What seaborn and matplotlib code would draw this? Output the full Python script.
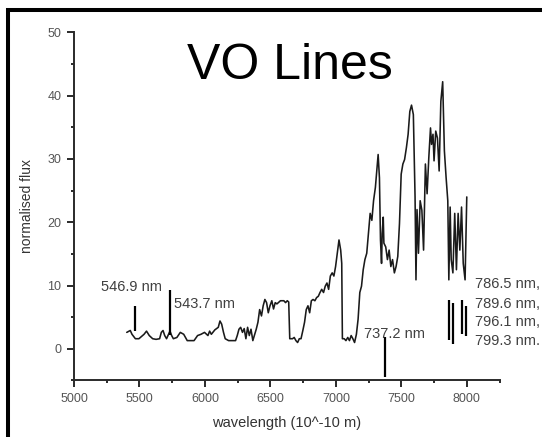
import numpy as np
import pandas as pd
import seaborn as sns
import matplotlib
matplotlib.use("Agg")
import matplotlib.pyplot as plt
from matplotlib import font_manager
from matplotlib.lines import Line2D
from matplotlib.ticker import MultipleLocator

# Spectrum: wavelength (Angstrom) and normalised flux
wavelength = [
    5403, 5430, 5443, 5469, 5496, 5535, 5554, 5575, 5601, 5627, 5654, 5667,
    5680, 5693, 5707, 5733, 5746, 5759, 5786, 5812, 5838, 5865, 5917, 5944,
    5970, 5997, 6023, 6036, 6049, 6076, 6102, 6115, 6128, 6142, 6155, 6181,
    6234, 6247, 6260, 6273, 6287, 6300, 6313, 6326, 6339, 6352, 6366, 6392,
    6405, 6418, 6432, 6445, 6458, 6471, 6484, 6497, 6511, 6524, 6537, 6550,
    6577, 6603, 6616, 6629, 6640, 6648, 6656, 6669, 6682, 6695, 6708, 6721,
    6734, 6748, 6761, 6774, 6787, 6800, 6813, 6826, 6840, 6853, 6866, 6879,
    6892, 6906, 6919, 6932, 6945, 6958, 6972, 6985, 6998, 7011, 7024, 7037,
    7045, 7050, 7064, 7077, 7091, 7104, 7117, 7130, 7143, 7157, 7170, 7183,
    7196, 7209, 7222, 7236, 7249, 7262, 7275, 7288, 7302, 7315, 7323, 7333,
    7341, 7349, 7354, 7362, 7367, 7381, 7394, 7407, 7420, 7433, 7447, 7460,
    7473, 7486, 7499, 7512, 7525, 7539, 7552, 7565, 7578, 7592, 7605, 7612,
    7620, 7631, 7644, 7657, 7670, 7684, 7697, 7710, 7723, 7731, 7742, 7750,
    7763, 7776, 7789, 7802, 7816, 7829, 7842, 7855, 7863, 7873, 7881, 7894,
    7908, 7921, 7934, 7947, 7960, 7973, 7987, 8000,
]
flux = [
    2.6, 2.9, 2.3, 1.6, 1.6, 2.3, 2.8, 2.1, 1.6, 1.5, 1.6, 2.6,
    2.9, 2.1, 1.6, 2.8, 2.1, 1.6, 1.8, 2.6, 2.3, 1.3, 1.3, 2.1,
    2.3, 2.6, 2.1, 2.8, 2.3, 3.0, 3.4, 4.4, 3.9, 2.6, 1.6, 1.3,
    1.3, 2.1, 3.1, 3.4, 2.6, 3.2, 1.6, 3.4, 2.1, 3.1, 1.3, 3.1,
    4.2, 6.2, 5.2, 6.8, 7.8, 7.3, 5.7, 6.8, 7.6, 6.3, 7.3, 7.1,
    7.6, 7.6, 7.3, 7.6, 7.4, 1.6, 1.6, 1.6, 1.8, 1.3, 1.0, 1.6,
    1.6, 2.9, 4.2, 6.2, 6.8, 5.7, 7.6, 7.8, 7.6, 8.1, 8.3, 8.9,
    9.4, 8.9, 9.9, 10.4, 9.4, 11.5, 12.0, 11.5, 13.0, 15.1, 17.2, 15.6,
    13.5, 1.6, 1.6, 1.3, 1.8, 1.3, 2.1, 1.6, 1.0, 2.3, 4.7, 8.9,
    9.9, 12.5, 14.1, 15.1, 18.2, 21.4, 20.3, 23.4, 25.5, 28.6, 30.7, 27.0,
    17.2, 13.5, 18.2, 20.8, 16.7, 16.1, 14.1, 15.6, 13.0, 14.1, 12.0, 13.0,
    14.6, 19.8, 27.6, 29.2, 29.9, 31.8, 33.9, 37.5, 38.5, 37.0, 24.0, 10.9,
    22.0, 15.1, 23.4, 21.9, 15.6, 29.2, 24.5, 30.2, 34.9, 32.3, 33.9, 29.7,
    34.4, 33.3, 28.1, 39.1, 42.2, 31.3, 27.1, 23.4, 10.9, 22.4, 14.1, 12.0,
    21.4, 12.5, 21.4, 15.6, 22.4, 13.5, 10.9, 24.0,
]

# Marked VO line positions (Angstrom) with the vertical extent of each marker
line_pos = [5469, 5737, 7372, 7865, 7896, 7961, 7993]
line_lo = [2.8, 2.2, -4.5, 1.4, 0.8, 2.4, 2.0]
line_hi = [6.7, 9.3, 1.9, 7.7, 7.3, 7.7, 6.8]

# Line labels and where they sit (data coordinates)
label_text = ["546.9 nm", "543.7 nm", "737.2 nm",
              "786.5 nm,", "789.6 nm,", "796.1 nm,", "799.3 nm."]
label_x = [5204, 5767, 7217, 8066, 8066, 8066, 8066]
label_y = [9.7, 7.1, 2.3, 10.2, 7.1, 4.2, 1.3]


def pick_font(names):
    for n in names:
        try:
            font_manager.findfont(n, fallback_to_default=False)
            return n
        except Exception:
            continue
    return "DejaVu Sans"


sns.set_theme(style="ticks")
base = pick_font(["Liberation Sans", "Arial"])
plt.rcParams["font.family"] = [base, "DejaVu Sans"]

fig = plt.figure(figsize=(5.42, 4.37), dpi=100, facecolor="white")
ax = fig.add_axes([0.1365, 0.1293, 0.7851, 0.7967])
ax.set_facecolor("white")

df = pd.DataFrame({"wavelength": wavelength, "flux": flux})
sns.lineplot(data=df, x="wavelength", y="flux", ax=ax, color="#1a1a1a",
             linewidth=1.15, estimator=None, sort=False)

ax.vlines(line_pos, line_lo, line_hi, colors="black", linewidth=1.6)

for t, x, y in zip(label_text, label_x, label_y):
    ax.text(x, y, t, fontsize=10.5, color="#404040", ha="left", va="center",
            clip_on=False)

ax.set_xlim(5000, 8250)
ax.set_ylim(-5, 50)
ax.xaxis.set_major_locator(MultipleLocator(500))
ax.xaxis.set_minor_locator(MultipleLocator(250))
ax.yaxis.set_major_locator(MultipleLocator(10))
ax.yaxis.set_minor_locator(MultipleLocator(5))
ax.set_yticks([0, 10, 20, 30, 40, 50])

for side in ("top", "right"):
    ax.spines[side].set_visible(False)
for side in ("left", "bottom"):
    ax.spines[side].set_color("#2a2a2a")
    ax.spines[side].set_linewidth(1.4)

ax.tick_params(which="major", direction="out", length=5, width=1.4,
               color="#2a2a2a", labelsize=9, labelcolor="#555555", pad=4)
ax.tick_params(which="minor", direction="out", length=2.5, width=1.4,
               color="#2a2a2a")

ax.set_xlabel("wavelength (10^-10 m)", fontsize=10.5, color="#333333",
              labelpad=8)
ax.set_ylabel("normalised flux", fontsize=10, color="#333333", labelpad=10)

fig.text(290 / 542, 1 - 66 / 437, "VO Lines", fontsize=36, color="black",
         ha="center", va="center")

# Heavy black frame along the top and left edges of the figure
fig.add_artist(Line2D([8 / 542, 8 / 542, 1.02], [-0.02, 1 - 10 / 437, 1 - 10 / 437],
                      transform=fig.transFigure, color="black", linewidth=2.9,
                      solid_joinstyle="miter"))

fig.savefig("out.png", dpi=100, facecolor="white")
